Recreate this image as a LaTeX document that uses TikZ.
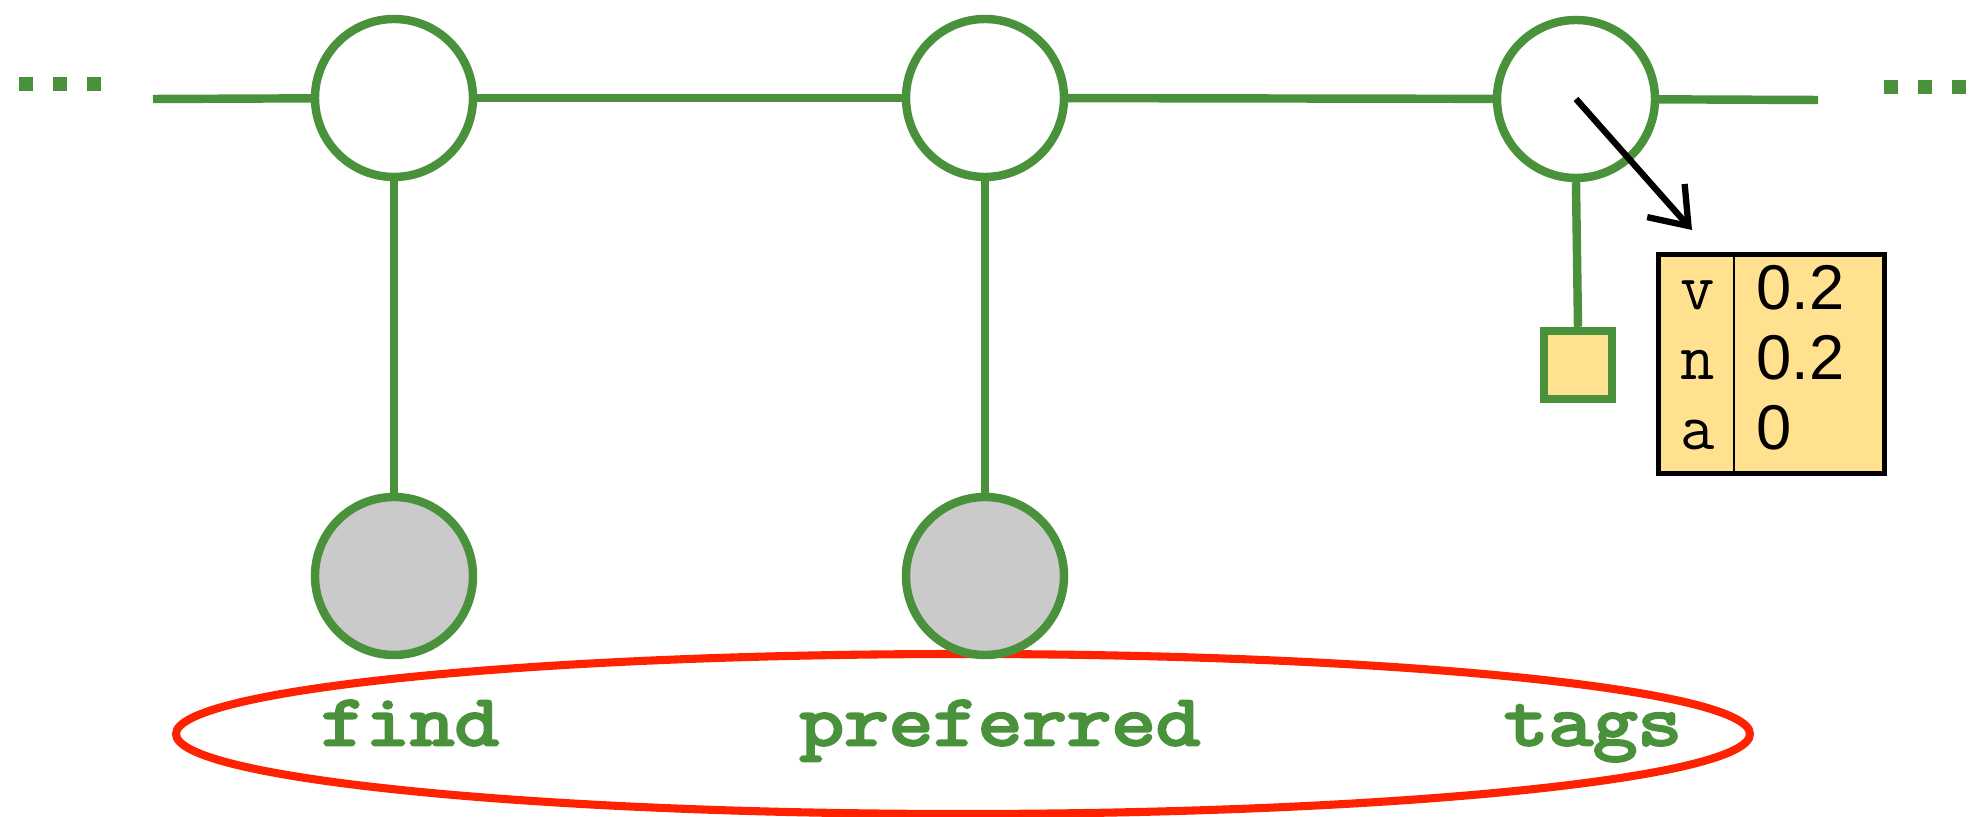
\documentclass[tikz,border=0pt]{standalone}
\usepackage{fontspec}
\usepackage{tikz}
\usetikzlibrary{arrows.meta,positioning,shapes.geometric,calc}
\newfontfamily\wordfont{Latin Modern Mono}[FakeBold=4,FakeStretch=1.2]
\newfontfamily\tagfont{Latin Modern Mono}
\newfontfamily\numfont{Liberation Sans}
\definecolor{leaf}{HTML}{4A913C}
\definecolor{flame}{HTML}{FF2200}
\definecolor{butter}{HTML}{FFE18F}
\definecolor{ash}{HTML}{CACACA}
\tikzset{
  hidden/.style={circle,draw=leaf,fill=white,line width=2.4pt,minimum size=1.58cm,
                 inner sep=0pt},
  seen/.style={circle,draw=leaf,fill=ash,line width=2.4pt,minimum size=1.58cm,
               inner sep=0pt},
  factor/.style={rectangle,draw=leaf,fill=butter,line width=2.4pt,
                 minimum size=0.68cm,inner sep=0pt},
  chain/.style={draw=leaf,line width=2.4pt},
  dot/.style={rectangle,fill=leaf,minimum size=0.14cm,inner sep=0pt},
  probtab/.style={rectangle,draw=black,fill=butter,line width=1.7pt,
                  minimum width=2.26cm,minimum height=2.19cm,inner sep=0pt},
  cell/.style={anchor=base west,inner sep=0pt,font=\numfont\fontsize{18}{20}\selectfont},
  tagcell/.style={anchor=base,inner sep=0pt,font=\tagfont\fontsize{19}{21}\selectfont},
  word/.style={anchor=base,inner sep=0pt,text=leaf,
               font=\wordfont\fontsize{20.5}{22}\selectfont},
  phrase/.style={ellipse,draw=flame,line width=2.3pt,minimum width=15.74cm,
                 minimum height=1.6cm,inner sep=0pt},
  pointer/.style={-{Straight Barb[length=3.4mm,width=5mm]},line width=1.8pt,
                  draw=black}
}
\begin{document}
\begin{tikzpicture}[x=1cm,y=1cm]
    \path[use as bounding box] (0,0) rectangle (19.76,8.17);

    % the red ring round the sentence
    \node[phrase] (ring) at (9.63,0.83) {};
    \node[word] (w1) at (4.10,0.72) {find};
    \node[word] (w2) at (10.00,0.72) {preferred};
    \node[word] (w3) at (15.93,0.72) {tags};

    \node[hidden] (h1) at (3.94,7.19) {};
    \node[hidden] (h2) at (9.85,7.19) {};
    \node[hidden] (h3) at (15.76,7.18) {};
    \node[seen] (o1) at (3.94,2.41) {};
    \node[seen] (o2) at (9.85,2.41) {};
    \node[factor] (f3) at (15.78,4.52) {};

    \coordinate (lend) at (1.53,7.18);
    \coordinate (rend) at (18.18,7.17);
    \draw[chain] (lend) -- (h1);
    \draw[chain] (h1) -- (h2);
    \draw[chain] (h2) -- (h3);
    \draw[chain] (h3) -- (rend);
    \draw[chain] (h1) -- (o1);
    \draw[chain] (h2) -- (o2);
    \draw[chain] (h3.south) -- (f3.north);

    \foreach \x in {0.26,0.60,0.935}
      \node[dot] at (\x,7.325) {};
    \foreach \x in {18.91,19.25,19.59}
      \node[dot] at (\x,7.295) {};

    % the table of tag probabilities
    \node[probtab] (tab) at (17.715,4.53) {};
    \draw[line width=0.6pt] ($(tab.north west)+(0.785,0)$) -- ($(tab.south west)+(0.785,0)$);
    \node[tagcell] (tv) at (16.98,5.07) {v};
    \node[tagcell] (tn) at (16.98,4.37) {n};
    \node[tagcell] (ta) at (16.98,3.67) {a};
    \node[cell] (pv) at (17.56,5.07) {0.2};
    \node[cell] (pn) at (17.56,4.37) {0.2};
    \node[cell] (pa) at (17.56,3.67) {0};

    \coordinate (tip) at (16.92,5.87);
    \draw[pointer] (h3.center) -- (tip);
  \end{tikzpicture}
\end{document}
